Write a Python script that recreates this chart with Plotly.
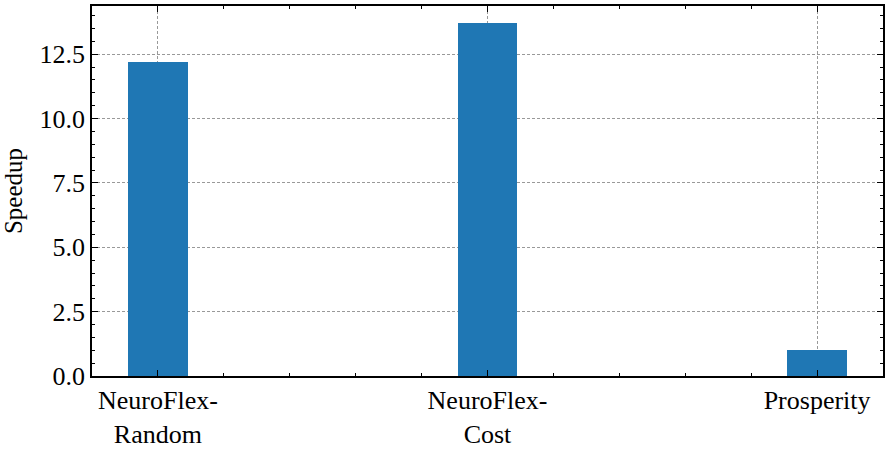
import plotly.graph_objects as go

categories = ["NeuroFlex-<br>Random", "NeuroFlex-<br>Cost", "Prosperity"]
speedup = [12.2, 13.7, 1.0]

positions = list(range(len(categories)))
serif = "'Liberation Serif', 'Times New Roman', 'DejaVu Serif', serif"

fig = go.Figure(go.Bar(
    x=positions,
    y=speedup,
    width=0.18,
    marker=dict(color="#1f77b4", line=dict(width=0)),
))

axis_common = dict(
    showline=True,
    linecolor="black",
    linewidth=1.5,
    mirror="allticks",
    ticks="inside",
    ticklen=6,
    tickwidth=1,
    tickcolor="black",
    showgrid=True,
    gridcolor="#999999",
    griddash="3px,2px",
    gridwidth=0.8,
    zeroline=False,
    automargin=False,
    tickfont=dict(family=serif, size=26, color="black"),
)

fig.update_xaxes(
    **axis_common,
    range=[-0.2, 2.2],
    tickmode="array",
    tickvals=positions,
    ticktext=categories,
    minor=dict(ticks="inside", ticklen=3, tickcolor="black", dtick=0.2, tick0=0, showgrid=False),
)

fig.update_yaxes(
    **axis_common,
    range=[0, 14.37],
    tickmode="linear",
    tick0=0,
    dtick=2.5,
    tickformat=".1f",
    title=dict(text="Speedup", font=dict(family=serif, size=25, color="black"), standoff=10),
    minor=dict(ticks="inside", ticklen=3, tickcolor="black", dtick=0.5, showgrid=False),
)

fig.update_layout(
    width=890,
    height=449,
    plot_bgcolor="white",
    paper_bgcolor="white",
    font=dict(family=serif),
    margin=dict(l=92, r=7, t=6, b=73),
    showlegend=False,
    bargap=0,
)

# page body has a default 8px margin; drop it so the figure fills the window
fig.write_html("out.html", config={"displayModeBar": False},
               post_script="document.body.style.margin='0';")
